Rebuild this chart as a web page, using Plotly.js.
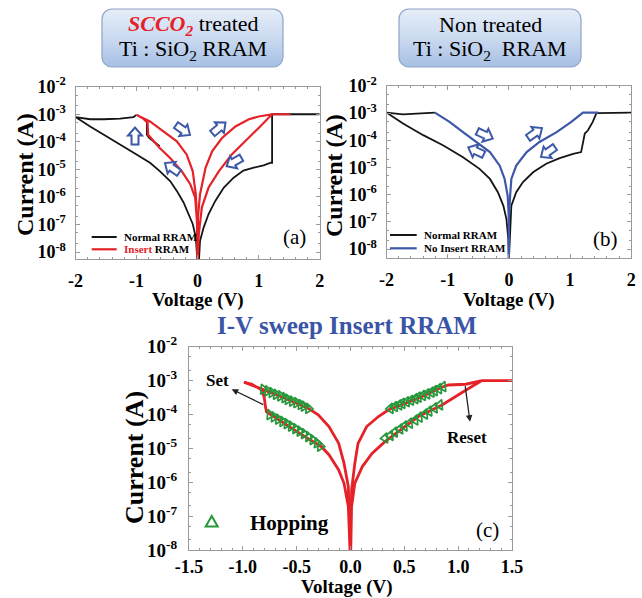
<!DOCTYPE html>
<html><head><meta charset="utf-8">
<script src="https://cdn.plot.ly/plotly-3.0.1.min.js"></script>
<style>html,body{margin:0;padding:0;background:#fff;}#chart{width:642px;height:598px;}</style>
</head><body><div id="chart"></div>
<script>
// ---------------- DATA ----------------
// Panel (a): SCCO2 treated
const aNormLeftV  = [0, -0.03, -0.08, -0.15, -0.23, -0.34, -0.45, -0.62, -0.78, -1.00, -1.27, -1.54, -1.76, -2.00, -1.76, -1.54, -1.27, -1.05, -1.00];
const aNormLeftI  = [4e-9, 3.5e-8, 1.05e-7, 2.4e-7, 6.3e-7, 1.66e-6, 3.8e-6, 8.7e-6, 1.74e-5, 3.5e-5, 7.9e-5, 1.8e-4, 3.6e-4, 7.9e-4, 6.6e-4, 6.6e-4, 6.9e-4, 7.9e-4, 9.5e-4];
const aNormSetV   = [-0.83, -0.83, -0.79, -0.72, -0.62];
const aNormSetI   = [5.5e-4, 1.8e-4, 1.35e-4, 1.0e-4, 7e-5];
const aNormRightV = [0.02, 0.04, 0.10, 0.18, 0.29, 0.43, 0.59, 0.75, 0.92, 1.08, 1.20, 1.22, 1.22, 1.50, 2.00];
const aNormRightI = [4e-9, 2.6e-8, 7.9e-8, 2.4e-7, 7.2e-7, 2.2e-6, 5.0e-6, 9.1e-6, 1.15e-5, 1.4e-5, 1.74e-5, 1.74e-5, 1.0e-3, 1.0e-3, 1.0e-3];
const aInsLeftV   = [0, -0.01, -0.04, -0.12, -0.26, -0.45, -0.62, -0.75, -0.81, -0.82, -0.90, -1.00, -0.78, -0.56, -0.34, -0.18, -0.08, -0.03, -0.01, 0];
const aInsLeftI   = [4e-9, 1.3e-7, 9.5e-7, 2.9e-6, 8.7e-6, 2.6e-5, 6.0e-5, 1.2e-4, 1.8e-4, 5.0e-4, 7.2e-4, 9.5e-4, 5.5e-4, 2.4e-4, 1.05e-4, 3.5e-5, 8.7e-6, 1.26e-6, 1.8e-7, 4e-9];
const aInsRightV  = [0, 0.005, 0.04, 0.13, 0.24, 0.40, 0.62, 0.84, 1.00, 1.22, 1.52, 1.22, 1.00, 0.78, 0.56, 0.35, 0.18, 0.07, 0.02, 0];
const aInsRightI  = [4e-9, 1.8e-7, 1.26e-6, 1.15e-5, 4.6e-5, 1.38e-4, 3.6e-4, 6.6e-4, 8.3e-4, 1.0e-3, 1.0e-3, 1.0e-3, 3.2e-4, 1.05e-4, 3.5e-5, 8.7e-6, 2.2e-6, 4.2e-7, 4.6e-8, 4e-9];

// Panel (b): Non treated
const bNormLeftV  = [0, -0.01, -0.04, -0.09, -0.18, -0.31, -0.48, -0.75, -1.07, -1.40, -1.73, -2.00, -1.73, -1.50, -1.35, -1.21];
const bNormLeftI  = [4e-9, 2.3e-8, 1.26e-7, 3.9e-7, 1.23e-6, 3.8e-6, 8.9e-6, 2.4e-5, 6.5e-5, 1.55e-4, 4.2e-4, 1.05e-3, 9.0e-4, 9.5e-4, 1.02e-3, 1.05e-3];
const bNormRightV = [0.0, 0.04, 0.12, 0.23, 0.40, 0.61, 0.83, 1.05, 1.18, 1.21, 1.24, 1.29, 1.37, 1.43, 2.00];
const bNormRightI = [4e-9, 3.9e-7, 1.23e-6, 2.9e-6, 6.8e-6, 1.38e-5, 2.2e-5, 3.2e-5, 3.7e-5, 8.7e-5, 1.78e-4, 2.3e-4, 4.8e-4, 1.0e-3, 1.05e-3];
const bNoInsLeftV  = [-1.21, -0.97, -0.75, -0.53, -0.31, -0.15, -0.07, -0.02, 0, 0];
const bNoInsLeftI  = [1.05e-3, 4.8e-4, 2.0e-4, 8.7e-5, 3.7e-5, 1.17e-5, 3.8e-6, 9.1e-7, 1.26e-7, 4e-9];
const bNoInsRightV = [0, 0, 0.02, 0.04, 0.12, 0.29, 0.50, 0.78, 1.02, 1.21, 1.46];
const bNoInsRightI = [4e-9, 1.26e-7, 9.1e-7, 3.8e-6, 1.17e-5, 3.7e-5, 8.7e-5, 2.0e-4, 4.8e-4, 1.05e-3, 1.05e-3];

// Panel (c): I-V sweep Insert RRAM
const cLeftV  = [0, -0.02, -0.06, -0.11, -0.20, -0.27, -0.45, -0.61, -0.78, -0.79, -0.80, -0.82, -0.92, -0.99, -0.92, -0.84, -0.61, -0.39, -0.30, -0.20, -0.11, -0.06, -0.02, 0];
const cLeftI  = [4e-9, 1.9e-7, 9.3e-7, 2.3e-6, 6.5e-6, 1.12e-5, 2.5e-5, 5.5e-5, 1.2e-4, 1.7e-4, 3.0e-4, 5.2e-4, 7.9e-4, 8.9e-4, 7.4e-4, 5.9e-4, 3.0e-4, 1.5e-4, 9.8e-5, 4.4e-5, 1.4e-5, 3.6e-6, 7.4e-7, 4e-9];
const cRightV = [0, 0.01, 0.04, 0.07, 0.15, 0.26, 0.35, 0.63, 0.86, 0.91, 1.07, 1.22, 1.50, 1.22, 1.07, 0.85, 0.63, 0.32, 0.20, 0.11, 0.04, 0.01, 0];
const cRightI = [4e-9, 5.9e-7, 3.6e-6, 1.4e-5, 4.4e-5, 8.7e-5, 1.35e-4, 3.0e-4, 6.6e-4, 7.4e-4, 7.8e-4, 1.0e-3, 1.0e-3, 1.0e-3, 5.2e-4, 1.9e-4, 8.7e-5, 1.58e-5, 7.1e-6, 2.9e-6, 9.3e-7, 1.9e-7, 4e-9];
// Hopping fits
const hopULV = [-0.81, -0.77, -0.73, -0.69, -0.65, -0.61, -0.58, -0.54, -0.50, -0.46, -0.43, -0.39];
const hopULI = [5.5e-4, 4.9e-4, 4.4e-4, 3.9e-4, 3.5e-4, 3.1e-4, 2.75e-4, 2.45e-4, 2.2e-4, 1.95e-4, 1.75e-4, 1.5e-4];
const hopLLV = [-0.75, -0.71, -0.67, -0.63, -0.59, -0.55, -0.51, -0.47, -0.43, -0.39, -0.35, -0.31, -0.28];
const hopLLI = [9.8e-5, 8.4e-5, 7.2e-5, 6.2e-5, 5.3e-5, 4.5e-5, 3.8e-5, 3.2e-5, 2.7e-5, 2.2e-5, 1.8e-5, 1.45e-5, 1.15e-5];
const hopURV = [0.37, 0.41, 0.45, 0.48, 0.52, 0.56, 0.60, 0.63, 0.67, 0.71, 0.75, 0.78, 0.82, 0.86];
const hopURI = [1.5e-4, 1.7e-4, 1.9e-4, 2.1e-4, 2.35e-4, 2.6e-4, 2.9e-4, 3.2e-4, 3.6e-4, 4.0e-4, 4.5e-4, 5.0e-4, 5.7e-4, 6.6e-4];
const hopLRV = [0.32, 0.37, 0.41, 0.46, 0.50, 0.55, 0.60, 0.64, 0.69, 0.73, 0.78, 0.83];
const hopLRI = [2.0e-5, 2.4e-5, 3.0e-5, 3.7e-5, 4.5e-5, 5.5e-5, 6.8e-5, 8.3e-5, 1.02e-4, 1.25e-4, 1.55e-4, 1.9e-4];

// Tick labels
const yTickVals = [1e-8, 1e-7, 1e-6, 1e-5, 1e-4, 1e-3, 1e-2];
const yTickText = ['10<sup>-8</sup>', '10<sup>-7</sup>', '10<sup>-6</sup>', '10<sup>-5</sup>', '10<sup>-4</sup>', '10<sup>-3</sup>', '10<sup>-2</sup>'];
const xTickValsAB = [-2, -1, 0, 1, 2];
const xTickTextAB = ['-2', '-1', '0', '1', '2'];
const xTickValsC = [-1.5, -1.0, -0.5, 0.0, 0.5, 1.0, 1.5];
const xTickTextC = ['-1.5', '-1.0', '-0.5', '0.0', '0.5', '1.0', '1.5'];

// ---------------- LAYOUT HELPERS ----------------
const W = 642, H = 598;
const px = x => x / W, py = y => 1 - y / H;
const SERIF = 'Liberation Serif';
const RED = '#e52228', BLK = '#151515', BLUE = '#3d58a8', GREEN = '#25983a', AXC = '#9a9a9a';

function line(x, y, color, w, xa, ya) {
  return {x, y, type: 'scatter', mode: 'lines', line: {color, width: w}, xaxis: xa, yaxis: ya, showlegend: false, hoverinfo: 'skip'};
}
function hop(x, y, ang) {
  return {x, y, type: 'scatter', mode: 'markers', xaxis: 'x3', yaxis: 'y3', showlegend: false,
    marker: {symbol: 'triangle-up-open', size: 9, angle: ang, color: GREEN, line: {color: GREEN, width: 1.7}}};
}

const traces = [
  line(aNormLeftV, aNormLeftI, BLK, 1.8, 'x', 'y'),
  line(aNormSetV, aNormSetI, BLK, 1.8, 'x', 'y'),
  line(aNormRightV, aNormRightI, BLK, 1.8, 'x', 'y'),
  line(aInsLeftV, aInsLeftI, RED, 2.2, 'x', 'y'),
  line(aInsRightV, aInsRightI, RED, 2.2, 'x', 'y'),
  line(bNormLeftV, bNormLeftI, BLK, 1.8, 'x2', 'y2'),
  line(bNormRightV, bNormRightI, BLK, 1.8, 'x2', 'y2'),
  line(bNoInsLeftV, bNoInsLeftI, BLUE, 2.2, 'x2', 'y2'),
  line(bNoInsRightV, bNoInsRightI, BLUE, 2.2, 'x2', 'y2'),
  line(cLeftV, cLeftI, RED, 2.8, 'x3', 'y3'),
  line(cRightV, cRightI, RED, 2.8, 'x3', 'y3'),
  hop(hopULV, hopULI, 95), hop(hopLLV, hopLLI, 95),
  hop(hopURV, hopURI, -95), hop(hopLRV, hopLRI, -95)
];

function xax(dom, range, vals, text, size, minorDt, standoff) {
  return {domain: dom, range, tickvals: vals, ticktext: text, showline: true, mirror: 'allticks', linecolor: AXC, linewidth: 1,
    ticks: 'inside', ticklen: 4, tickcolor: AXC, zeroline: false, showgrid: false, ticklabelstandoff: standoff,
    tickfont: {family: SERIF, size, color: '#000', weight: 'bold'},
    minor: {ticks: 'inside', ticklen: 2, dtick: minorDt, tickcolor: AXC, showgrid: false}};
}
function yax(dom, range, size, standoff) {
  return {domain: dom, type: 'log', range, tickvals: yTickVals, ticktext: yTickText, showline: true, mirror: 'allticks',
    linecolor: AXC, linewidth: 1, ticks: 'inside', ticklen: 4, tickcolor: AXC, zeroline: false, showgrid: false,
    ticklabelstandoff: standoff, tickfont: {family: SERIF, size, color: '#000', weight: 'bold'},
    minor: {ticks: 'inside', ticklen: 2, dtick: 'D2', tickcolor: AXC, showgrid: false}};
}

// block (hollow) arrows as paper-space paths
function blockArrow(cx, cy, angDeg) {
  const L = 17, hw = 14, sw = 7, hl = 8;
  const pts = [[-L/2, -sw/2], [L/2 - hl, -sw/2], [L/2 - hl, -hw/2], [L/2, 0], [L/2 - hl, hw/2], [L/2 - hl, sw/2], [-L/2, sw/2]];
  const a = angDeg * Math.PI / 180, c = Math.cos(a), s = Math.sin(a);
  const d = pts.map((p, i) => {
    const X = cx + p[0] * c - p[1] * s, Y = cy + p[0] * s + p[1] * c;
    return (i ? 'L' : 'M') + px(X).toFixed(5) + ',' + py(Y).toFixed(5);
  }).join(' ') + ' Z';
  return {type: 'path', xref: 'paper', yref: 'paper', path: d, line: {color: BLUE, width: 2}, fillcolor: '#ffffff', layer: 'above'};
}

const shapes = [
  blockArrow(135, 136, -90), blockArrow(183, 130, 35), blockArrow(172, 168, -145),
  blockArrow(219, 128, -40), blockArrow(234, 162, 150),
  blockArrow(485, 135, 25), blockArrow(476, 151, -155),
  blockArrow(535, 133, -35), blockArrow(548, 152, 145),
  // legend sample lines
  {type: 'line', xref: 'paper', yref: 'paper', x0: px(91.7), x1: px(116.7), y0: py(237), y1: py(237), line: {color: BLK, width: 2}},
  {type: 'line', xref: 'paper', yref: 'paper', x0: px(91.7), x1: px(116.7), y0: py(249.3), y1: py(249.3), line: {color: RED, width: 2.2}},
  {type: 'line', xref: 'paper', yref: 'paper', x0: px(390), x1: px(416.7), y0: py(235), y1: py(235), line: {color: BLK, width: 2}},
  {type: 'line', xref: 'paper', yref: 'paper', x0: px(390), x1: px(416.7), y0: py(248.3), y1: py(248.3), line: {color: BLUE, width: 2.2}},
  // hopping legend triangle
  {type: 'path', xref: 'paper', yref: 'paper', path: 'M' + px(205.7) + ',' + py(526.5) + ' L' + px(217.7) + ',' + py(526.5) + ' L' + px(211.7) + ',' + py(516) + ' Z',
   line: {color: GREEN, width: 2}, fillcolor: 'rgba(0,0,0,0)'}
];

function boxSvg(w, h) {
  const s = `<svg xmlns="http://www.w3.org/2000/svg" width="${w}" height="${h}" viewBox="0 0 ${w} ${h}" preserveAspectRatio="none">` +
    `<defs><linearGradient id="g" x1="0" y1="0" x2="0" y2="1"><stop offset="0" stop-color="#e6eef9"/><stop offset="0.5" stop-color="#cbdaf0"/><stop offset="1" stop-color="#a6bfe3"/></linearGradient></defs>` +
    `<rect x="1" y="1" width="${w - 2}" height="${h - 2}" rx="10" ry="10" fill="url(#g)" stroke="#8ea4c6" stroke-width="1.2"/></svg>`;
  return 'data:image/svg+xml;charset=utf-8,' + encodeURIComponent(s);
}
const images = [
  {source: boxSvg(183, 60), xref: 'paper', yref: 'paper', x: px(101), y: py(8), sizex: 183 / W, sizey: 60 / H, sizing: 'stretch', xanchor: 'left', yanchor: 'top', layer: 'below'},
  {source: boxSvg(184, 60), xref: 'paper', yref: 'paper', x: px(398), y: py(8), sizex: 184 / W, sizey: 60 / H, sizing: 'stretch', xanchor: 'left', yanchor: 'top', layer: 'below'}
];

function txt(x, y, text, size, opts, fontExtra) {
  const a = {xref: 'paper', yref: 'paper', x: px(x), y: py(y), text, showarrow: false,
    font: Object.assign({family: SERIF, size, color: '#000'}, fontExtra || {}), xanchor: 'center', yanchor: 'middle'};
  return Object.assign(a, opts || {});
}
function bold(x, y, text, size, opts, fontExtra) {
  return txt(x, y, text, size, opts, Object.assign({weight: 'bold'}, fontExtra || {}));
}

const annotations = [
  txt(193, 25, `<span style="color:${RED}"><b><i>SCCO<sub>2</sub></i></b></span> treated`, 22),
  txt(193, 50, 'Ti : SiO<sub>2</sub> RRAM', 22),
  txt(490, 25, 'Non treated', 22),
  txt(490, 50, 'Ti : SiO<sub>2</sub>\u00a0 RRAM', 22),
  txt(294, 237, '(a)', 21), txt(605, 239, '(b)', 21), txt(487, 530, '(c)', 21),
  bold(121.7, 237, 'Normal RRAM', 11, {xanchor: 'left'}),
  bold(121.7, 249.3, `<span style="color:${RED}">Insert</span> RRAM`, 11, {xanchor: 'left'}),
  bold(421.7, 235, 'Normal RRAM', 11, {xanchor: 'left'}),
  bold(421.7, 248.3, 'No Insert RRAM', 11, {xanchor: 'left'}),
  bold(25, 175, 'Current (A)', 24, {textangle: -90}),
  bold(334, 175, 'Current (A)', 24, {textangle: -90}),
  bold(134, 458, 'Current (A)', 26, {textangle: -90}),
  bold(198, 300, 'Voltage (V)', 19),
  bold(509, 300, 'Voltage (V)', 19),
  bold(347, 587, 'Voltage (V)', 19),
  bold(347, 325, 'I-V sweep Insert RRAM', 25, null, {color: '#3b55a6'}),
  bold(217, 380, 'Set', 17),
  bold(467, 437, 'Reset', 17),
  bold(289, 523, 'Hopping', 21),
  {xref: 'paper', yref: 'paper', x: px(231.7), y: py(389.3), ax: 33, ay: 16, text: '', showarrow: true, arrowhead: 2, arrowsize: 1, arrowwidth: 1.3, arrowcolor: '#222'},
  {xref: 'paper', yref: 'paper', x: px(470), y: py(421.7), ax: -5, ay: -37, text: '', showarrow: true, arrowhead: 2, arrowsize: 1, arrowwidth: 1.3, arrowcolor: '#222'}
];

const layout = {
  width: W, height: H, autosize: false, margin: {l: 0, r: 0, t: 0, b: 0},
  paper_bgcolor: '#fff', plot_bgcolor: '#fff', showlegend: false,
  font: {family: SERIF},
  xaxis:  Object.assign(xax([px(75.5), px(319.7)], [-2, 2], xTickValsAB, xTickTextAB, 18, 0.2, 5), {anchor: 'y'}),
  yaxis:  Object.assign(yax([py(259), py(86.7)], [-8.25, -2], 18, 5), {anchor: 'x'}),
  xaxis2: Object.assign(xax([px(386.5), px(631.3)], [-2, 2], xTickValsAB, xTickTextAB, 18, 0.2, 5), {anchor: 'y2'}),
  yaxis2: Object.assign(yax([py(258), py(86)], [-8.33, -2], 18, 5), {anchor: 'x2'}),
  xaxis3: Object.assign(xax([px(189), px(512)], [-1.5, 1.5], xTickValsC, xTickTextC, 18, 0.1, 0), {anchor: 'y3'}),
  yaxis3: Object.assign(yax([py(550), py(346.7)], [-8, -2], 19, 7), {anchor: 'x3'}),
  shapes, annotations, images
};

Plotly.newPlot('chart', traces, layout, {staticPlot: true, displayModeBar: false});
</script></body></html>
